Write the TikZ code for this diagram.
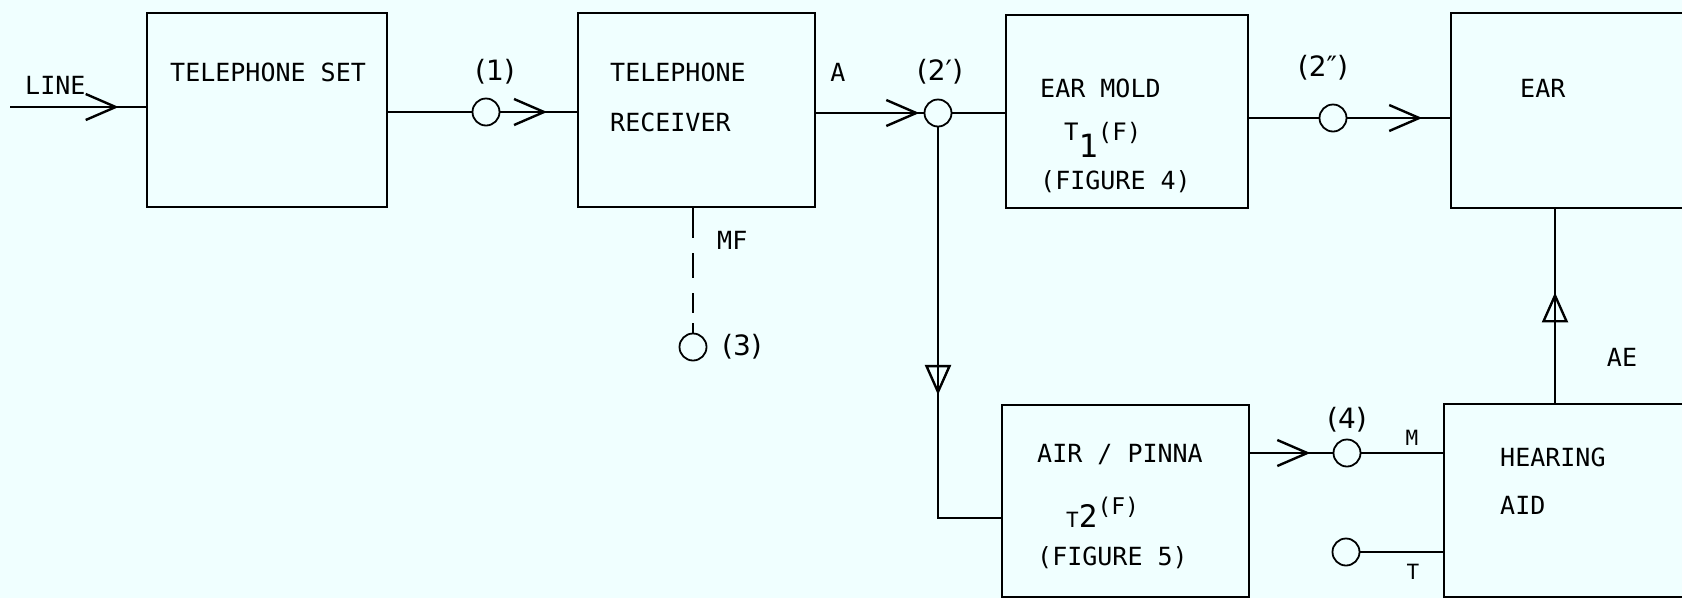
\documentclass[tikz,border=0pt]{standalone}
\usepackage{fontspec}
\usetikzlibrary{arrows.meta,decorations.markings}
\newfontfamily\monof{DejaVu Sans Mono}
\newfontfamily\sansf{DejaVu Sans}
\definecolor{bgc}{RGB}{240,255,255}
\begin{document}
\begin{tikzpicture}[x=1pt,y=-1pt,
  blk/.style={draw, line width=2.2pt, inner sep=0pt},
  cir/.style={draw, circle, line width=1.8pt, minimum size=27pt, inner sep=0pt},
  txt/.style={font=\monof\fontsize{25}{30}\selectfont, inner sep=0pt, anchor=west},
  small/.style={font=\monof\fontsize{21}{25}\selectfont, inner sep=0pt},
  clbl/.style={font=\sansf\fontsize{28}{32}\selectfont, inner sep=0pt},
  conn/.style={line width=2.4pt},
  chev/.style={postaction={decorate}, decoration={markings,
     mark=at position #1 with {\arrow{Straight Barb[length=30pt,width=26pt]}}}},
  tri/.style={postaction={decorate}, decoration={markings,
     mark=at position #1 with {\arrow{Triangle[open,length=30pt,width=26pt]}}}}
]
\useasboundingbox (0,0) rectangle (1682,598);
\clip (0,0) rectangle (1682,598);
\fill[bgc] (0,0) rectangle (1682,598);

% boxes
\node[blk, minimum width=240pt, minimum height=194pt] (telset) at (267,110) {};
\node[blk, minimum width=237pt, minimum height=194pt] (recv) at (696.5,110) {};
\node[blk, minimum width=242pt, minimum height=193pt] (mold) at (1127,111.5) {};
\node[blk, minimum width=269pt, minimum height=195pt] (ear) at (1585.5,110.5) {};
\node[blk, minimum width=247pt, minimum height=192pt] (pinna) at (1125.5,501) {};
\node[blk, minimum width=276pt, minimum height=193pt] (haid) at (1582,500.5) {};

% junction circles
\node[cir] (c1) at (486,112) {};
\node[cir] (c2) at (938,113) {};
\node[cir] (c2b) at (1333,118) {};
\node[cir] (c3) at (693,347) {};
\node[cir] (c4) at (1347,453) {};
\node[cir] (c5) at (1346,552) {};

% texts in boxes
\node[txt] (tline) at (25,85) {LINE};
\node[txt] (tset) at (170,72) {TELEPHONE SET};
\node[txt] (trec1) at (610,72) {TELEPHONE};
\node[txt] (trec2) at (610,122) {RECEIVER};
\node[txt] (tmold1) at (1040,88) {EAR MOLD};
\node[txt, anchor=base west] (tmold2) at (1064,140) {{\fontsize{24}{28}\selectfont T}\raisebox{-17pt}{\fontsize{32}{38}\selectfont 1}{\fontsize{24}{28}\selectfont(F)}};
\node[txt] (tmold3) at (1040,182) {(FIGURE 4)};
\node[txt] (tear) at (1520,88) {EAR};
\node[txt] (tpin1) at (1037,455) {AIR / PINNA};
\node[txt, anchor=base west] (tpin2) at (1066,527) {{\fontsize{21}{24}\selectfont T}{\fontsize{31}{36}\selectfont 2}\raisebox{13pt}{\fontsize{23}{26}\selectfont(F)}};
\node[txt] (tpin3) at (1037,558) {(FIGURE 5)};
\node[txt] (thear1) at (1500,457) {HEARING};
\node[txt] (thear2) at (1500,505) {AID};

% signal labels
\node[txt, anchor=center] (la) at (838,72) {A};
\node[txt] (lmf) at (717,240) {MF};
\node[txt, anchor=center] (lae) at (1622,357) {AE};
\node[small, anchor=center] (lm) at (1412,438) {M};
\node[small, anchor=center] (lt) at (1413,572) {T};
\node[clbl] (l1) at (495,72) {(1)};
\node[clbl] (l2a) at (940,72) {(2′)};
\node[clbl] (l2b) at (1323,68) {(2″)};
\node[clbl] (l3) at (742,347) {(3)};
\node[clbl] (l4) at (1347,420) {(4)};

% connectors
\coordinate (linein) at (10,107);
\coordinate (aex) at (1555,0);
\draw[conn, chev=0.8] (linein) -- (linein -| telset.west);
\draw[conn] (telset.east |- c1) -- (c1);
\draw[conn, chev=0.61] (c1) -- (c1 -| recv.west);
\draw[conn, chev=0.96] (recv.east |- c2) -- (c2);
\draw[conn] (c2) -- (c2 -| mold.west);
\draw[conn] (mold.east |- c2b) -- (c2b);
\draw[conn, chev=0.73] (c2b) -- (c2b -| ear.west);
\draw[conn, tri=0.59] (c2) |- ([yshift=-17pt]pinna.west);
\draw[conn, chev=0.73] (pinna.east |- c4) -- (c4);
\draw[conn] (c4) -- (c4 -| haid.west);
\draw[conn] (c5) -- (c5 -| haid.west);
\draw[conn, tri=0.57] (aex |- haid.north) -- (aex |- ear.south);
\draw[conn, dash pattern={on 30pt off 15pt on 25pt off 15pt on 20pt off 10pt on 20pt}] (recv.south -| c3) -- (c3);
\end{tikzpicture}
\end{document}
